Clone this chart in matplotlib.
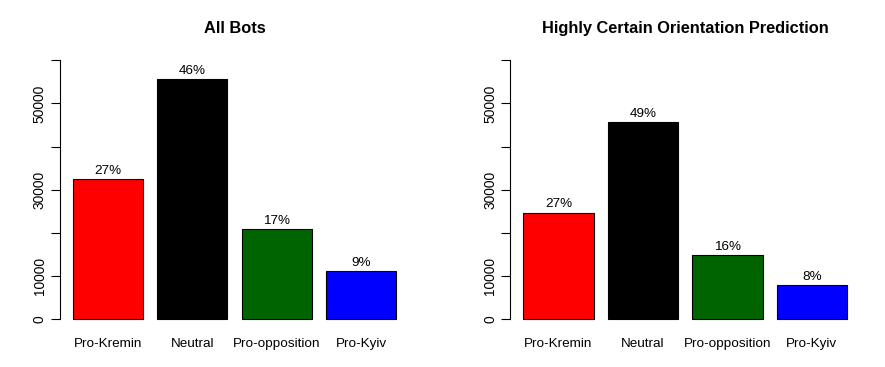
import matplotlib
matplotlib.use("Agg")
import matplotlib.pyplot as plt

plt.rcParams['font.family'] = ['Liberation Sans', 'DejaVu Sans']

# Data
categories = ['Pro-Kremin', 'Neutral', 'Pro-opposition', 'Pro-Kyiv']
colors = ['#ff0000', '#000000', '#006400', '#0000ff']

all_bots = [32480, 55700, 20830, 11040]
all_pct = ['27%', '46%', '17%', '9%']

certain_bots = [24700, 45600, 14800, 7870]
certain_pct = ['27%', '49%', '16%', '8%']

titles = ['All Bots', 'Highly Certain Orientation Prediction']

W, H = 885, 367
fig = plt.figure(figsize=(W / 100, H / 100), dpi=100)

# R barplot layout: bars of width 1 at 0.2 + 1.2*i
xs = [0.7 + 1.2 * i for i in range(len(categories))]


def make_panel(left_px, values, pcts, title):
    right_px = left_px + 349.6
    top_px, bottom_px = 49.9, 329.4
    ax = fig.add_axes([left_px / W, (H - bottom_px) / H,
                       (right_px - left_px) / W, (bottom_px - top_px) / H])
    ax.bar(xs, values, width=1.0, color=colors, edgecolor='black', linewidth=0.8)
    for x, v, p in zip(xs, values, pcts):
        ax.text(x, v + 500, p, ha='center', va='bottom', fontsize=9.7)
    ax.set_xlim(0.016, 4.984)
    ax.set_ylim(-2400, 62400)
    ax.set_xticks(xs, categories, fontsize=9.7)
    ax.tick_params(axis='x', length=0, pad=6.2)
    yt = list(range(0, 60001, 10000))
    ylab = ['0', '10000', '', '30000', '', '50000', '']
    ax.set_yticks(yt, ylab, fontsize=9.9)
    ax.tick_params(axis='y', length=6.5, width=0.8, pad=3.0)
    plt.setp(ax.get_yticklabels(), rotation=90, va='center')
    for s in ['top', 'right', 'bottom']:
        ax.spines[s].set_visible(False)
    ax.spines['left'].set_bounds(0, 60000)
    ax.spines['left'].set_linewidth(0.8)
    ax.set_title(title, fontsize=11.8, fontweight='bold', pad=12)
    return ax


make_panel(59.7, all_bots, all_pct, titles[0])
make_panel(510.3, certain_bots, certain_pct, titles[1])

fig.savefig('out.png', dpi=100)
